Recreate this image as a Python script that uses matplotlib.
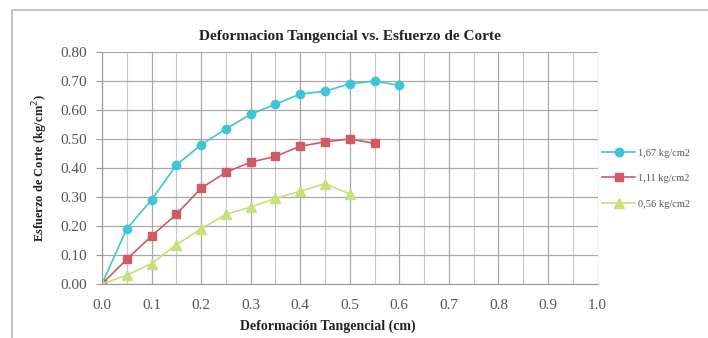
import numpy as np
import matplotlib.pyplot as plt
from matplotlib.patches import Rectangle

plt.rcParams['font.family'] = ['Liberation Serif', 'DejaVu Serif']

# data
x_a = [0.0, 0.05, 0.10, 0.15, 0.20, 0.25, 0.30, 0.35, 0.40, 0.45, 0.50, 0.55, 0.60]
y_a = [0.0, 0.19, 0.29, 0.41, 0.48, 0.535, 0.585, 0.62, 0.655, 0.665, 0.69, 0.70, 0.685]
x_b = [0.0, 0.05, 0.10, 0.15, 0.20, 0.25, 0.30, 0.35, 0.40, 0.45, 0.50, 0.55]
y_b = [0.0, 0.085, 0.165, 0.24, 0.33, 0.385, 0.42, 0.44, 0.475, 0.49, 0.50, 0.485]
x_c = [0.0, 0.05, 0.10, 0.15, 0.20, 0.25, 0.30, 0.35, 0.40, 0.45, 0.50]
y_c = [0.0, 0.03, 0.07, 0.135, 0.19, 0.24, 0.265, 0.295, 0.32, 0.345, 0.31]
labels = ["1,67 kg/cm2", "1,11 kg/cm2", "0,56 kg/cm2"]

fig = plt.figure(figsize=(7.08, 3.38), dpi=100)
# light frame around the chart (right edge runs off the picture)
fig.patches.append(Rectangle((0.017, -0.05), 1.0, 1.02, transform=fig.transFigure,
                             fill=False, edgecolor='#b8b8b8', lw=1.2))
ax = fig.add_axes([0.144, 0.16, 0.700, 0.686])

ax.plot(x_a, y_a, color='#3cc6d6', marker='o', ms=6, lw=1.2, label=labels[0])
ax.plot(x_b, y_b, color='#d05a66', marker='s', ms=6, lw=1.2, label=labels[1])
ax.plot(x_c, y_c, color='#c6e07a', marker='^', ms=7, lw=1.2, label=labels[2])

ax.set_xlim(0, 1.0)
ax.set_ylim(0, 0.8)
ax.set_xticks(np.arange(0, 1.01, 0.1))
ax.set_xticks(np.arange(0.05, 1.0, 0.1), minor=True)
ax.set_yticks(np.arange(0, 0.81, 0.1))
ax.set_xticklabels([f"{v:.1f}" for v in np.arange(0, 1.01, 0.1)])
ax.set_yticklabels([f"{v:.2f}" for v in np.arange(0, 0.81, 0.1)])
ax.tick_params(axis='y', which='major', length=4, width=0.8, color='#999999',
               labelsize=11, labelcolor='#555555', pad=7)
ax.tick_params(axis='x', which='both', length=0, labelsize=11, labelcolor='#555555', pad=11)
ax.grid(which='major', color='#a8a8a8', lw=0.9)
ax.grid(which='minor', axis='x', color='#c8c8c8', lw=0.8)
for s in ['top', 'right']:
    ax.spines[s].set_visible(False)
for s in ['left', 'bottom']:
    ax.spines[s].set_color('#999999')

ax.set_title("Deformacion Tangencial vs. Esfuerzo de Corte", fontsize=11,
             fontweight='bold', pad=9, color='#222222')
ax.set_xlabel("Deformación Tangencial (cm)", fontsize=10, fontweight='bold',
              color='#222222', labelpad=5, x=0.455)
ax.set_ylabel("Esfuerzo de Corte (kg/cm$^2$)", fontsize=9, fontweight='bold',
              color='#222222', labelpad=7)

ax.legend(loc='center left', bbox_to_anchor=(0.99, 0.455), frameon=False, fontsize=7.5,
          handlelength=3.2, labelspacing=1.55, handletextpad=0.3, labelcolor='#555555')

fig.savefig("out.png", dpi=100)
